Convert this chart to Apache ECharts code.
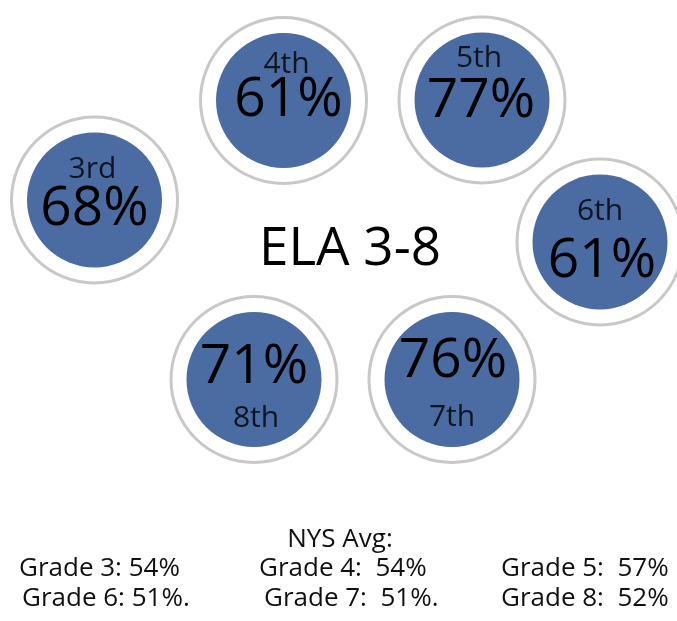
<!DOCTYPE html>
<html>
<head>
<meta charset="utf-8">
<script src="https://cdn.jsdelivr.net/npm/echarts@6/dist/echarts.min.js"></script>
<style>html,body{margin:0;padding:0;background:#fff}#c{width:677px;height:621px}</style>
</head>
<body>
<div id="c"></div>
<script>
// ---- data ----
var grades = ['3rd', '4th', '5th', '6th', '7th', '8th'];
var elaPct = [68, 61, 77, 61, 76, 71];
var nysLabels = ['Grade 3', 'Grade 4', 'Grade 5', 'Grade 6', 'Grade 7', 'Grade 8'];
var nysAvg = [54, 54, 57, 51, 51, 52];
var title = 'ELA 3-8';
var nysTitle = 'NYS Avg:';

// ---- layout (positions in pixel units of the hidden axes) ----
var centers = [[94.5, 200], [283.5, 100.5], [482, 100], [600, 242], [452, 379.5], [254, 379.5]];
var gradeOffset = [[-2, -31], [3, -36], [-3, -42], [0, -31], [0, 38], [2, 39]];
var pctOffset = [[0, 9], [5, 0], [-1, 1], [2, 19], [1, -18], [0, -12]];
var nysPos = [[19, 569], [259, 569], [501, 569], [22, 599], [264, 599], [501, 599]];
var nysSep = [' ', '  ', '  ', ' ', '  ', '  '];
var nysSuffix = ['', '', '', '.', '.', ''];

var FONT = '"Open Sans", "Noto Sans", sans-serif';
var BLUE = '#4a6ca2';

var ringData = [], innerData = [], gradeData = [];
for (var i = 0; i < grades.length; i++) {
  ringData.push({ value: [centers[i][0], centers[i][1]] });
  innerData.push({ value: [centers[i][0], centers[i][1], elaPct[i]], label: { offset: pctOffset[i] } });
  gradeData.push({ value: [centers[i][0], centers[i][1]], name: grades[i], label: { offset: gradeOffset[i] } });
}

var graphics = [{
  type: 'text',
  x: 350, y: 250,
  style: { text: title, font: '53px ' + FONT, fill: '#000', align: 'center', verticalAlign: 'middle' }
}, {
  type: 'text',
  x: 340, y: 540,
  style: { text: nysTitle, font: '26px ' + FONT, fill: '#111', align: 'center', verticalAlign: 'middle' }
}];
for (var j = 0; j < nysLabels.length; j++) {
  graphics.push({
    type: 'text',
    x: nysPos[j][0], y: nysPos[j][1],
    style: {
      text: nysLabels[j] + ':' + nysSep[j] + nysAvg[j] + '%' + nysSuffix[j],
      font: '26px ' + FONT, fill: '#111', align: 'left', verticalAlign: 'middle'
    }
  });
}

var chart = echarts.init(document.getElementById('c'));
chart.setOption({
  animation: false,
  grid: { left: 0, right: 0, top: 0, bottom: 0 },
  xAxis: { type: 'value', min: 0, max: 677, show: false },
  yAxis: { type: 'value', min: 0, max: 621, inverse: true, show: false },
  series: [{
    type: 'scatter', z: 1, symbol: 'circle', symbolSize: 166,
    itemStyle: { color: '#fff', borderColor: '#c8c8c8', borderWidth: 3, opacity: 1 },
    emphasis: { disabled: true },
    data: ringData
  }, {
    type: 'scatter', z: 2, symbol: 'circle', symbolSize: 135,
    itemStyle: { color: BLUE, opacity: 1 },
    emphasis: { disabled: true },
    label: {
      show: true, position: 'inside',
      formatter: function (p) { return p.value[2] + '%'; },
      fontFamily: FONT, fontSize: 55, color: '#000'
    },
    data: innerData
  }, {
    type: 'scatter', z: 3, symbol: 'circle', symbolSize: 1,
    itemStyle: { color: 'rgba(0,0,0,0)' },
    emphasis: { disabled: true },
    label: {
      show: true, position: 'inside',
      formatter: function (p) { return p.name; },
      fontFamily: FONT, fontSize: 30, color: '#000'
    },
    data: gradeData
  }],
  graphic: graphics
});
</script>
</body>
</html>
